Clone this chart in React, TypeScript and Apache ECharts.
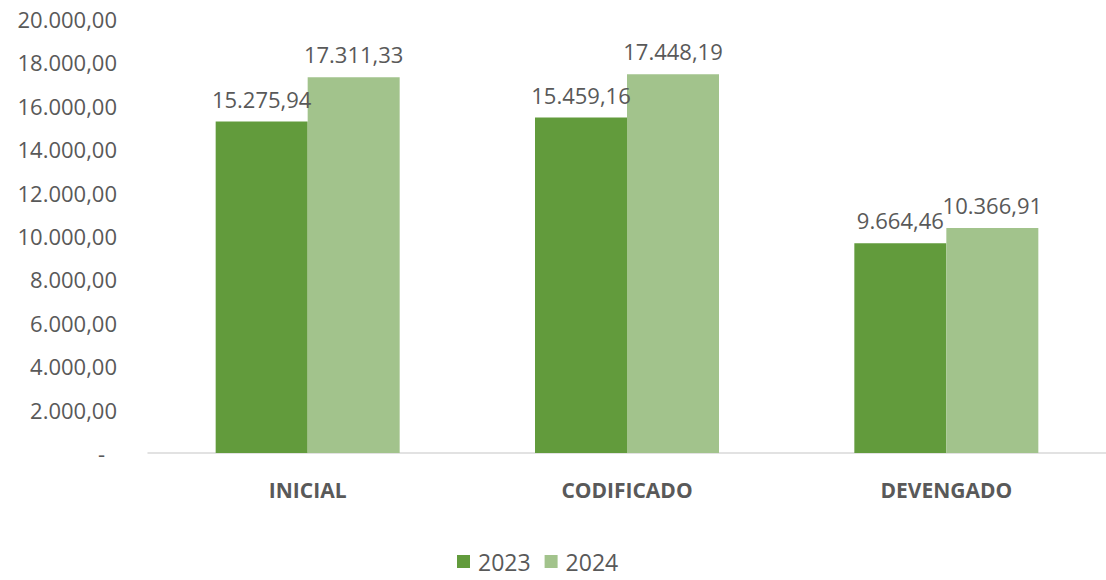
import React, { useEffect, useRef } from "react";
import * as echarts from "echarts";

const categories = ["INICIAL", "CODIFICADO", "DEVENGADO"];
const values2023 = [15275.94, 15459.16, 9664.46];
const values2024 = [17311.33, 17448.19, 10366.91];
const seriesNames = ["2023", "2024"];

const fmt = (v: number) => {
  const fixed = v.toFixed(2);
  const [i, d] = fixed.split(".");
  return i.replace(/\B(?=(\d{3})+(?!\d))/g, ".") + "," + d;
};

const FONT = "'Open Sans', sans-serif";
const TXT = "#595959";

export default function App() {
  const ref = useRef<HTMLDivElement>(null);
  useEffect(() => {
    document.body.style.margin = "0";
    const chart = echarts.init(ref.current!, null, { renderer: "svg" });
    const label = {
      show: true,
      position: "top",
      distance: 12,
      color: TXT,
      fontFamily: FONT,
      fontSize: 22,
      formatter: (p: any) => fmt(p.value),
    };
    chart.setOption({
      animation: false,
      grid: { left: 148, top: 19, bottom: 127, width: 964 },
      legend: {
        bottom: 2,
        left: 452,
        itemWidth: 13,
        itemHeight: 13,
        itemGap: 14,
        icon: "rect",
        textStyle: { color: TXT, fontFamily: FONT, fontSize: 23, padding: [0, 0, 0, 3] },
        data: seriesNames,
      },
      xAxis: {
        type: "category",
        data: categories,
        axisLine: { lineStyle: { color: "#d9d9d9", width: 1.5 } },
        axisTick: { show: false },
        axisLabel: {
          color: TXT,
          fontFamily: FONT,
          fontSize: 21,
          fontWeight: "bold",
          margin: 26,
        },
      },
      yAxis: {
        type: "value",
        min: 0,
        max: 20000,
        interval: 2000,
        splitLine: { show: false },
        axisLine: { show: false },
        axisTick: { show: false },
        axisLabel: {
          color: TXT,
          fontFamily: FONT,
          fontSize: 22,
          margin: 31,
          formatter: (v: number) => (v === 0 ? "{d|-}" : fmt(v)),
          rich: { d: { padding: [0, 12, 0, 0], color: TXT, fontFamily: FONT, fontSize: 22 } },
        },
      },
      series: [
        {
          name: seriesNames[0],
          type: "bar",
          data: values2023,
          barWidth: 92,
          barGap: "0%",
          itemStyle: { color: "#629B3C" },
          label,
        },
        {
          name: seriesNames[1],
          type: "bar",
          data: values2024,
          barWidth: 92,
          barGap: "0%",
          itemStyle: { color: "#A2C38C" },
          label,
        },
      ],
    });
    return () => chart.dispose();
  }, []);
  return <div ref={ref} style={{ width: 1106, height: 580 }} />;
}
